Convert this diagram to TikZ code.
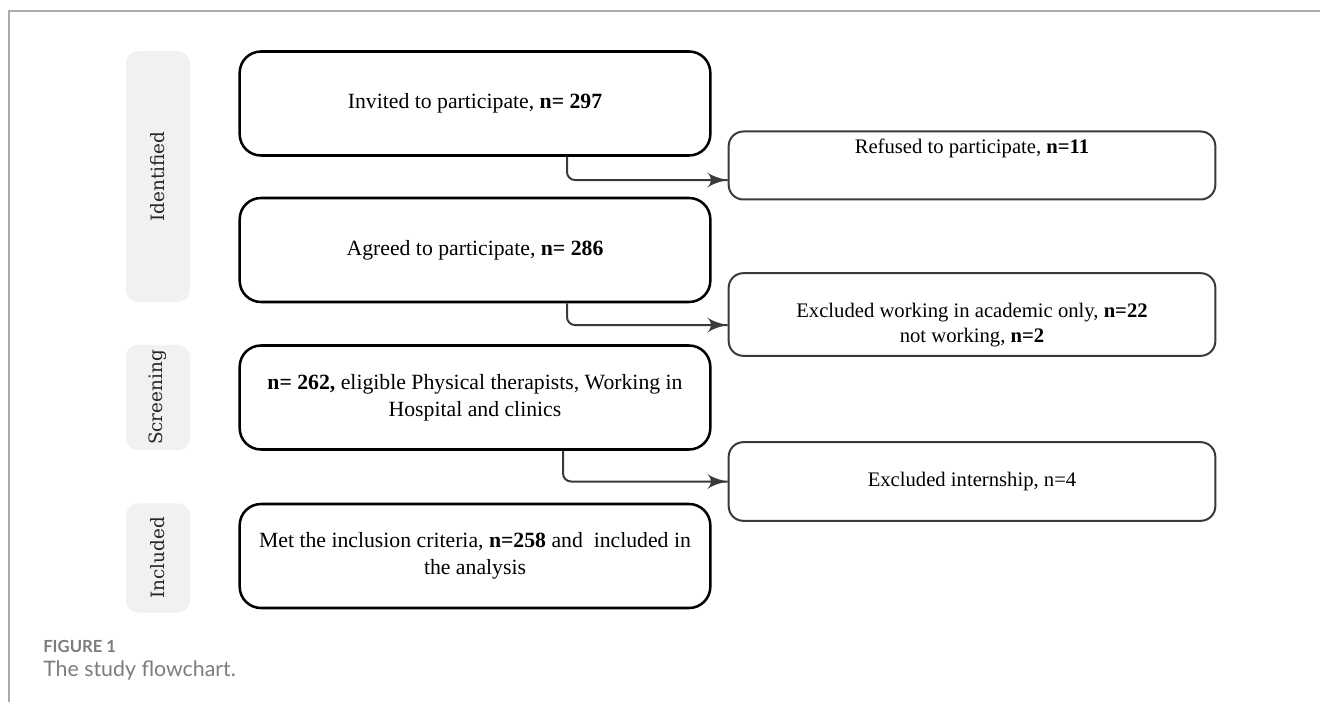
\documentclass[tikz,border=0pt]{standalone}
\usepackage{fontspec}
\setmainfont{Liberation Serif}
\newfontfamily\lanefont{DejaVu Serif}
\newfontfamily\capfont{Lato}
\usetikzlibrary{arrows}
\usetikzlibrary{decorations.markings}
\usetikzlibrary{positioning}
\definecolor{lanegray}{HTML}{F0F1F3}
\definecolor{linegray}{HTML}{3A3A3A}
\definecolor{framegray}{HTML}{ABABAB}
\definecolor{capgray}{HTML}{7C7C7C}
\tikzset{feed/.style = {decoration={markings,
                                    mark=at position 1 with {\arrow[scale=2.1]{latex'}}},
                        postaction={decorate}}}

\begin{document}
\begin{tikzpicture}[x=0.75pt, y=-0.75pt,
    lane/.style={fill=lanegray, rounded corners=9pt, rotate=90, minimum height=48pt,
                 inner sep=0pt, text=black!85, font=\lanefont\fontsize{13.8}{16}\selectfont},
    stage/.style={draw=black, line width=1.9pt, rounded corners=16pt, fill=white,
                  minimum width=353pt, minimum height=78pt, align=center,
                  font=\fontsize{16.3}{20.3}\selectfont},
    outcome/.style={draw=linegray, line width=1.5pt, rounded corners=11pt, fill=white,
                    minimum width=365pt, align=center,
                    font=\fontsize{15.5}{19}\selectfont},
    conn/.style={draw=linegray, line width=1.5pt, rounded corners=6pt, feed}]
      \useasboundingbox (0, 0) rectangle (1320, 702);
      \draw [framegray, line width=1.1pt] (9, 702) -- (9, 11) -- (1320, 11);

      % stages on the left
      \node [lane, minimum width=188pt] (identified) at (158, 176.5) {Identified};
      \node [lane, minimum width=79pt] (screening) at (158, 397.5) {Screening};
      \node [lane, minimum width=82pt] (includedlane) at (158, 558) {Included};

      % main column
      \node [stage] (invited) at (475, 103.5) {Invited to participate, \textbf{n= 297}};
      \node [stage] (agreed) at (475, 250) {Agreed to participate, \textbf{n= 286}};
      \node [stage] (eligible) at (475, 397.5)
            {\textbf{n= 262,} eligible Physical therapists, Working in\\ Hospital and clinics};
      \node [stage] (included) at (475, 556)
            {Met the inclusion criteria, \textbf{n=258} and\ \ included in\\ the analysis};

      % exclusions on the right
      \node [outcome, minimum height=51pt,
             label={[name=refusedtxt, yshift=13pt, font=\fontsize{15.5}{19}\selectfont]center:Refused to participate, \textbf{n=11}}]
            (refused) at (972, 165.5) {};
      \node [outcome, minimum height=62pt,
             label={[name=academictxt, yshift=-8pt, align=center, font=\fontsize{15.5}{19}\selectfont]center:Excluded working in academic only, \textbf{n=22}\\ not working, \textbf{n=2}}]
            (academic) at (972, 314.5) {};
      \node [outcome, minimum height=59pt] (internship) at (972, 481.5) {Excluded internship, n=4};

      \draw [conn] ([xshift=69pt]invited.south) |- ([yshift=-10.9pt]refused.west);
      \draw [conn] ([xshift=69pt]agreed.south) |- ([yshift=-7.9pt]academic.west);
      \draw [conn] ([xshift=66pt]eligible.south) |- (internship.west);

      \node [anchor=base west, inner sep=0pt, text=capgray, font=\capfont\bfseries\fontsize{12.5}{14}\selectfont]
            (fignum) at (43, 652) {FIGURE 1};
      \node [anchor=base west, inner sep=0pt, text=capgray, font=\capfont\fontsize{16}{18}\selectfont]
            (caption) at (43, 676) {The study flowchart.};
\end{tikzpicture}
\end{document}
